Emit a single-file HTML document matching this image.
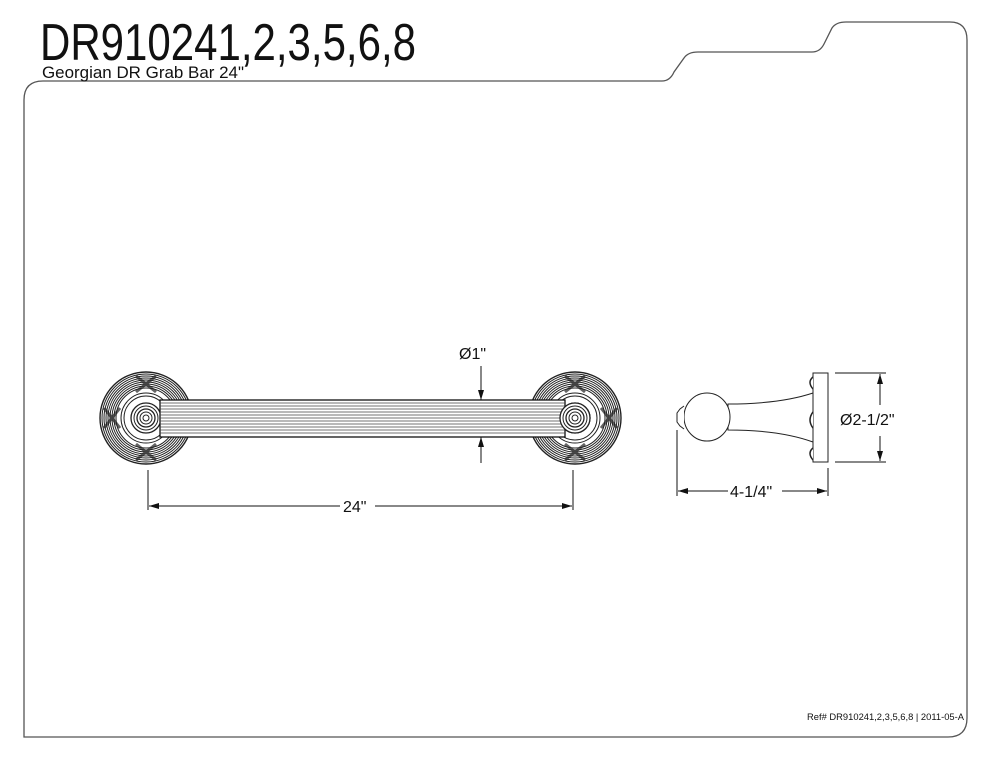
<!DOCTYPE html>
<html><head><meta charset="utf-8"><style>
html,body{margin:0;padding:0;background:#fff;}
svg{display:block;}
text{font-family:"Liberation Sans",sans-serif;fill:#111;}
</style></head><body>
<svg width="990" height="760" viewBox="0 0 990 760" xmlns="http://www.w3.org/2000/svg">
<defs>
<marker id="ar" viewBox="0 0 10 6" refX="10" refY="3" markerWidth="10" markerHeight="6" orient="auto" markerUnits="userSpaceOnUse"><path d="M0,0 L10,3 L0,6 Z" fill="#111"/></marker>
</defs>
<path d="M24,737 L24,100 Q24,81 43,81 L662,81 Q670,81 674,72 L684,58 Q688,52 698,52 L812,52 Q820,52 824,44 L832,28 Q836,22 846,22 L950,22 Q967,22 967,40 L967,718 Q967,737 948,737 Z" fill="none" stroke="#555" stroke-width="1.3"/>
<text x="40" y="60" font-size="52" textLength="376" lengthAdjust="spacingAndGlyphs">DR910241,2,3,5,6,8</text>
<text x="42" y="78" font-size="17" textLength="202" lengthAdjust="spacingAndGlyphs">Georgian DR Grab Bar 24"</text>
<text x="807" y="720" font-size="9" textLength="157" lengthAdjust="spacingAndGlyphs">Ref# DR910241,2,3,5,6,8 | 2011-05-A</text>

<g fill="none" stroke="#222" stroke-width="1">
<g id="ros">
<circle cx="146" cy="418" r="46" stroke-width="1.4"/>
<circle cx="146" cy="418" r="44"/><circle cx="146" cy="418" r="42"/><circle cx="146" cy="418" r="40"/><circle cx="146" cy="418" r="38"/><circle cx="146" cy="418" r="36"/><circle cx="146" cy="418" r="34"/><circle cx="146" cy="418" r="32"/><circle cx="146" cy="418" r="30"/>
<circle cx="146" cy="418" r="25"/><circle cx="146" cy="418" r="22"/>
<circle cx="146" cy="418" r="15" stroke-width="1.3"/><circle cx="146" cy="418" r="12"/><circle cx="146" cy="418" r="9" stroke-width="1.3"/><circle cx="146" cy="418" r="6"/><circle cx="146" cy="418" r="3"/>
<path d="M136,376 L156,392 M156,376 L136,392 M136,444 L156,460 M156,444 L136,460 M104,408 L120,428 M104,428 L120,408 M172,408 L188,428 M172,428 L188,408" stroke="#222" stroke-width="3" opacity="0.7"/>
</g>
<use href="#ros" transform="translate(429,0)"/>
</g>
<rect x="160" y="400" width="405" height="37" fill="#fff" stroke="#111" stroke-width="1.3"/>
<g stroke="#444" stroke-width="0.7">
<line x1="160" y1="403" x2="565" y2="403"/><line x1="160" y1="406" x2="565" y2="406"/><line x1="160" y1="409" x2="565" y2="409"/><line x1="160" y1="412" x2="565" y2="412"/><line x1="160" y1="415" x2="565" y2="415"/><line x1="160" y1="418" x2="565" y2="418"/><line x1="160" y1="421" x2="565" y2="421"/><line x1="160" y1="424" x2="565" y2="424"/><line x1="160" y1="427" x2="565" y2="427"/><line x1="160" y1="430" x2="565" y2="430"/><line x1="160" y1="433" x2="565" y2="433"/>
</g>
<g fill="#fff" stroke="#222" stroke-width="1"><circle cx="575" cy="418" r="15" stroke-width="1.3"/></g>
<g fill="none" stroke="#222" stroke-width="1"><circle cx="575" cy="418" r="12"/><circle cx="575" cy="418" r="9" stroke-width="1.3"/><circle cx="575" cy="418" r="6"/><circle cx="575" cy="418" r="3"/></g>

<g stroke="#111" stroke-width="1" fill="none">
<line x1="481" y1="366" x2="481" y2="400" marker-end="url(#ar)"/>
<line x1="481" y1="463" x2="481" y2="437" marker-end="url(#ar)"/>
<line x1="148" y1="470" x2="148" y2="510"/><line x1="573" y1="470" x2="573" y2="510"/>
<line x1="340" y1="506" x2="149" y2="506" marker-end="url(#ar)"/>
<line x1="375" y1="506" x2="572" y2="506" marker-end="url(#ar)"/>
</g>
<text x="459" y="359" font-size="16">Ø1"</text>
<text x="343" y="512" font-size="16">24"</text>

<g fill="#fff" stroke="#222" stroke-width="1">
<path d="M728,404 Q780,404 813,393 L813,442 Q780,430 728,430 Z"/>
<ellipse cx="707" cy="417" rx="23" ry="24"/>
<path d="M684,406 L680,409 L677,413 L677,422 L680,426 L684,429"/>
<rect x="813" y="373" width="15" height="89"/>
<path d="M813,377 q-6,5 0,12 M813,412 q-6,8 0,16 M813,448 q-6,5 0,12" stroke-width="1.5"/>
</g>
<g stroke="#111" stroke-width="1" fill="none">
<line x1="835" y1="373" x2="886" y2="373"/><line x1="835" y1="462" x2="886" y2="462"/>
<line x1="880" y1="405" x2="880" y2="374" marker-end="url(#ar)"/>
<line x1="880" y1="436" x2="880" y2="461" marker-end="url(#ar)"/>
<line x1="677" y1="430" x2="677" y2="496"/><line x1="828" y1="468" x2="828" y2="496"/>
<line x1="728" y1="491" x2="678" y2="491" marker-end="url(#ar)"/>
<line x1="782" y1="491" x2="827" y2="491" marker-end="url(#ar)"/>
</g>
<text x="840" y="425" font-size="16">Ø2-1/2"</text>
<text x="730" y="497" font-size="16">4-1/4"</text>
</svg>
</body></html>
